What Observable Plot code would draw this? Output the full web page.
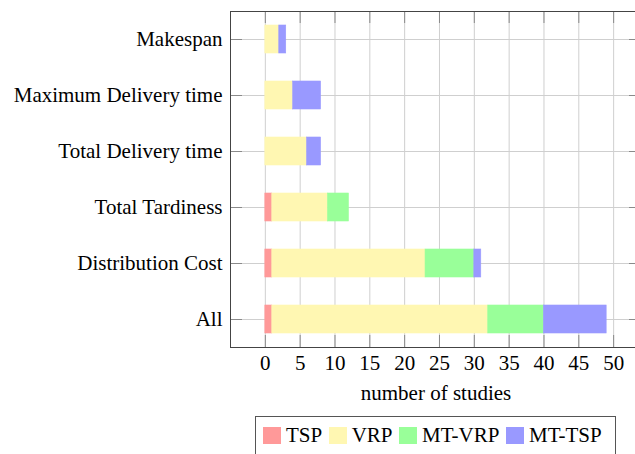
<!DOCTYPE html>
<html>
<head>
<meta charset="utf-8">
<script src="https://cdn.jsdelivr.net/npm/d3@7"></script>
<script src="https://cdn.jsdelivr.net/npm/@observablehq/plot@0.6"></script>
<style>
  html, body { margin: 0; padding: 0; background: #fff; overflow: hidden; }
  #wrap { position: relative; width: 635px; height: 454px; overflow: hidden; font-family: "Liberation Serif", "Times New Roman", serif; }
  #legend { position: absolute; left: 255px; top: 416px; width: 361px; height: 48px; border: 1px solid #555; box-sizing: border-box;
            display: flex; align-items: flex-start; padding: 10px 0 0 7px; font-size: 21px; color: #000; }
  .item { display: flex; align-items: center; margin-right: 6.5px; }
  .sw { width: 18px; height: 17px; margin-right: 5px; }
  .lab { line-height: 17px; }
</style>
</head>
<body>
<div id="wrap"></div>
<script>
const categories = ["Makespan", "Maximum Delivery time", "Total Delivery time", "Total Tardiness", "Distribution Cost", "All"];
const seriesNames = ["TSP", "VRP", "MT-VRP", "MT-TSP"];
const seriesColors = ["#ff9999", "#fff7b2", "#99ff99", "#9999ff"];
const TSP    = [0, 0, 0, 1, 1, 1];
const VRP    = [2, 4, 6, 8, 22, 31];
const MT_VRP = [0, 0, 0, 3, 7, 8];
const MT_TSP = [1, 4, 2, 0, 1, 9];
const xTicks = [0, 5, 10, 15, 20, 25, 30, 35, 40, 45, 50];
const xLabel = "number of studies";

const seriesValues = [TSP, VRP, MT_VRP, MT_TSP];
const data = [];
seriesNames.forEach((s, si) => {
  categories.forEach((c, ci) => data.push({category: c, series: s, value: seriesValues[si][ci]}));
});

const W = 635, H = 405, mL = 230, mR = -6, mT = 11, mB = 58;
const plotW = W - mL - mR, plotH = H - mT - mB;
const tickLen = 12;
const gridColor = "#cfcfcf", tickColor = "#8a8a8a", frameColor = "#444";

const chart = Plot.plot({
  width: W, height: H,
  marginLeft: mL, marginRight: mR, marginTop: mT, marginBottom: mB,
  style: {fontFamily: "'Liberation Serif', 'Times New Roman', serif", fontSize: "21px", color: "#000", background: "#fff"},
  x: {domain: [-5, 54], ticks: xTicks, label: null},
  y: {domain: categories, paddingInner: 0.5, paddingOuter: 0.25, label: null},
  color: {domain: seriesNames, range: seriesColors},
  marks: [
    Plot.gridX(xTicks, {stroke: gridColor, strokeOpacity: 1}),
    Plot.gridY(categories, {stroke: gridColor, strokeOpacity: 1}),
    Plot.barX(data, Plot.stackX({y: "category", x: "value", fill: "series", stroke: "series", strokeWidth: 0.6, order: seriesNames})),
    Plot.ruleX(xTicks, {x: d => d, stroke: tickColor, insetTop: plotH - tickLen}),
    Plot.ruleX(xTicks, {x: d => d, stroke: tickColor, insetBottom: plotH - tickLen}),
    Plot.ruleY(categories, {y: d => d, stroke: tickColor, insetRight: plotW - tickLen}),
    Plot.ruleY(categories, {y: d => d, stroke: tickColor, insetLeft: plotW - tickLen}),
    Plot.frame({stroke: frameColor}),
    Plot.axisX(xTicks, {tickSize: 0, tickPadding: 8, label: xLabel, labelAnchor: "center", labelArrow: "none", labelOffset: 52, fill: "#000"}),
    Plot.axisY(categories, {tickSize: 0, tickPadding: 8, label: null, fill: "#000"})
  ]
});
const wrap = document.getElementById("wrap");
wrap.appendChild(chart);

const legend = document.createElement("div");
legend.id = "legend";
seriesNames.forEach((s, i) => {
  const it = document.createElement("div"); it.className = "item";
  const sw = document.createElement("div"); sw.className = "sw"; sw.style.background = seriesColors[i];
  const lb = document.createElement("span"); lb.className = "lab"; lb.textContent = s;
  it.appendChild(sw); it.appendChild(lb); legend.appendChild(it);
});
wrap.appendChild(legend);
</script>
</body>
</html>
